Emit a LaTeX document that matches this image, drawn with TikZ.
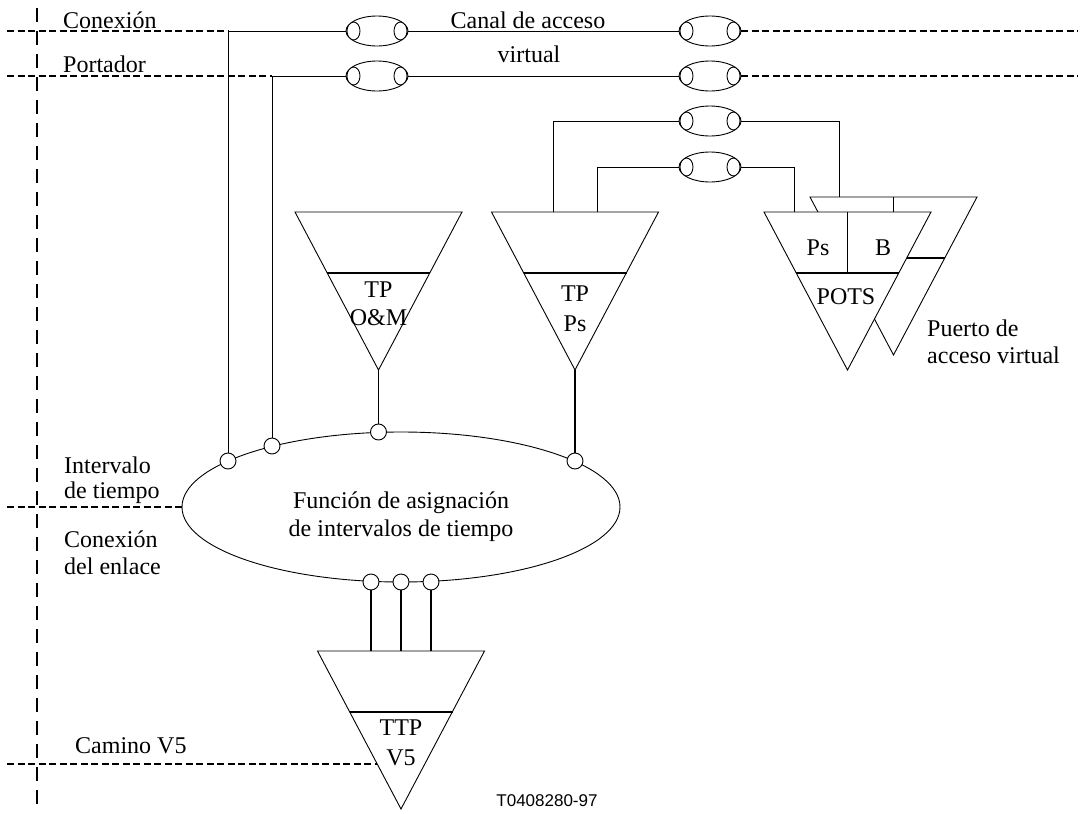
\documentclass[tikz,border=0pt]{standalone}
\usepackage{fontspec}
\setmainfont{Liberation Serif}
\newfontfamily\sansf{Liberation Sans}
\usetikzlibrary{shapes.geometric}
\begin{document}
\begin{tikzpicture}[x=1pt,y=-1pt,
  every node/.style={font=\fontsize{24}{28}\selectfont, inner sep=0pt},
  thinl/.style={line width=0.9pt},
  thickl/.style={line width=1.8pt},
  hdashl/.style={line width=1.4pt, dash pattern=on 7pt off 3.5pt},
  vdashl/.style={line width=1.6pt, dash pattern=on 14pt off 9pt},
  port/.style={circle, draw, fill=white, line width=0.9pt, minimum size=16pt},
  conn/.style={ellipse, draw, fill=white, line width=0.9pt, minimum width=62pt, minimum height=30pt,
    path picture={
      \draw[line width=0.9pt] ([xshift=-23.5pt]path picture bounding box.center) ellipse [x radius=6.5pt, y radius=9pt];
      \draw[line width=0.9pt] ([xshift=23.5pt]path picture bounding box.center) ellipse [x radius=6.5pt, y radius=9pt];}},
  vtri/.pic={
    \draw[thinl, fill=white] (-83.5,0) coordinate (-tl) -- (83.5,0) coordinate (-tr) -- (0,158) coordinate (-apex) -- cycle;
    \draw[thickl] (-51.5,61) -- (51.5,61);
    \coordinate (-top) at (0,0);},
  vtrid/.pic={
    \draw[thinl, fill=white] (-83.5,0) coordinate (-tl) -- (83.5,0) coordinate (-tr) -- (0,158) coordinate (-apex) -- cycle;
    \draw[thickl] (-51.5,61) -- (51.5,61);
    \draw[thickl] (0,0) -- (0,61);
    \coordinate (-top) at (0,0);}
]
\useasboundingbox (0,0) rectangle (1080,814);

% left vertical dashed boundary
\coordinate (vtop) at (37,8);
\coordinate (vbot) at (37,806);
\draw[vdashl] (vtop) -- (vbot);

% time slot assignment function
\node[ellipse, draw, thinl, minimum width=438pt, minimum height=150pt] (tsa) at (401,507) {};
\node[align=center] (tsatext) at (401,517) {Función de asignación\\de intervalos de tiempo};

% termination points (triangles)
\pic (tom) at (378.5,212) {vtri};
\pic (tps) at (575,212) {vtri};
\pic (potsB) at (893.5,197) {vtrid};
\pic (pots) at (847.5,212) {vtrid};
\pic (ttp) at (401,651) {vtri};

% ports on the ellipse
\node[port] (pc) at (228,461) {};
\node[port] (pp) at (272,446) {};
\node[port] (pom) at (378.5,432) {};
\node[port] (pps) at (575,461) {};
\node[port] (pb1) at (371,582) {};
\node[port] (pb2) at (401,582) {};
\node[port] (pb3) at (431,582) {};

% connection ovals
\node[conn] (o1a) at (377,31) {};
\node[conn] (o1b) at (710,31) {};
\node[conn] (o2a) at (377,76) {};
\node[conn] (o2b) at (710,76) {};
\node[conn] (o3) at (710,121) {};
\node[conn] (o4) at (710,167) {};

% coordinates
\coordinate (d1) at (7,31);
\coordinate (d2) at (7,76);
\coordinate (d3) at (7,507);
\coordinate (d4) at (7,764);
\coordinate (d4e) at (377,764);
\coordinate (c1) at (228,31);
\coordinate (c2) at (272,76);
\coordinate (e1) at (1078,31);
\coordinate (e2) at (1078,76);
\coordinate (r3a) at (553,212);
\coordinate (r3b) at (839,197);
\coordinate (r4a) at (597,212);
\coordinate (r4b) at (794,212);
\coordinate (t1) at (371,651);
\coordinate (t2) at (401,651);
\coordinate (t3) at (431,651);

% dashed layer lines
\draw[hdashl] (d1) -- (c1);
\draw[hdashl] (d2) -- (c2);
\draw[hdashl] (o1b) -- (e1);
\draw[hdashl] (o2b) -- (e2);
\draw[hdashl] (d3) -- (tsa.west);
\draw[hdashl] (d4) -- (d4e);

% thin connectors
\draw[thinl] (pc) -- (c1) -- (o1a);
\draw[thinl] (o1a) -- (o1b);
\draw[thinl] (pp) -- (c2) -- (o2a);
\draw[thinl] (o2a) -- (o2b);
\draw[thinl] (r3a) |- (o3);
\draw[thinl] (o3) -| (r3b);
\draw[thinl] (r4a) |- (o4);
\draw[thinl] (o4) -| (r4b);

% thick connectors
\draw[thickl] (tom-apex) -- (pom);
\draw[thickl] (tps-apex) -- (pps);
\draw[thickl] (pb1) -- (t1);
\draw[thickl] (pb2) -- (t2);
\draw[thickl] (pb3) -- (t3);

% triangle texts
\node[anchor=base] (tomt1) at (378.5,297) {TP};
\node[anchor=base] (tomt2) at (378.5,325) {O\&M};
\node[anchor=base] (tpst1) at (575,301) {TP};
\node[anchor=base] (tpst2) at (575,331) {Ps};
\node[anchor=base] (potsps) at (818,255) {Ps};
\node[anchor=base] (potsb) at (883,255) {B};
\node[anchor=base] (potst) at (846,304) {POTS};
\node[anchor=base] (ttpt1) at (401,735) {TTP};
\node[anchor=base] (ttpt2) at (401,765) {V5};

% labels
\node[anchor=base west] (tcon) at (63,28) {Conexión};
\node[anchor=base west] (tport) at (63,72) {Portador};
\node[anchor=base] (tcanal) at (528,28) {Canal de acceso};
\node[anchor=base] (tvirt) at (529,62) {virtual};
\node[anchor=base west] (tint1) at (64,473) {Intervalo};
\node[anchor=base west] (tint2) at (64,498) {de tiempo};
\node[anchor=base west] (tenl1) at (64,547) {Conexión};
\node[anchor=base west] (tenl2) at (64,574) {del enlace};
\node[anchor=base west] (tcam) at (75,753) {Camino V5};
\node[anchor=base west] (tpa1) at (927,336) {Puerto de};
\node[anchor=base west] (tpa2) at (927,363) {acceso virtual};
\node[anchor=base, font=\sansf\fontsize{17}{20}\selectfont] (tcode) at (547,806) {T0408280-97};
\end{tikzpicture}
\end{document}
